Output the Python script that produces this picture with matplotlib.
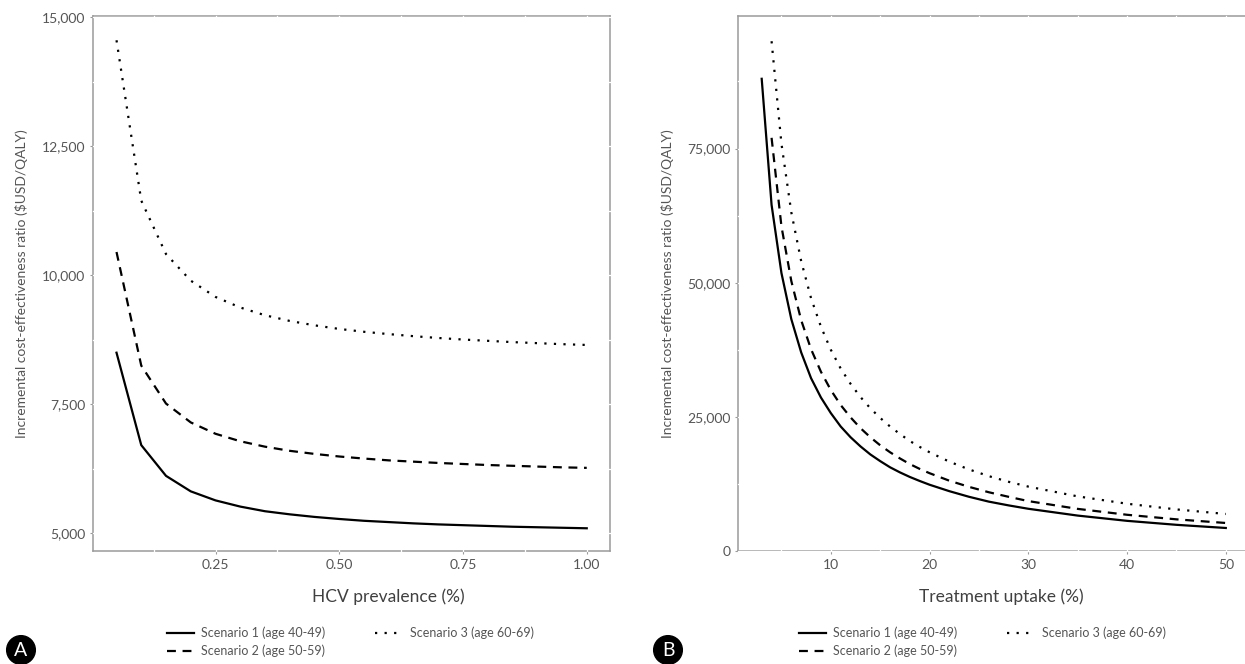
import matplotlib
matplotlib.use('Agg')
import matplotlib.pyplot as plt
from matplotlib.lines import Line2D

plt.rcParams['font.family'] = ['Lato', 'DejaVu Sans']

# panel A: ICER by HCV prevalence
prevalence = [0.05, 0.10, 0.15, 0.20, 0.25, 0.30, 0.35, 0.40, 0.45, 0.50,
              0.55, 0.60, 0.65, 0.70, 0.75, 0.80, 0.85, 0.90, 0.95, 1.00]
prev_s1 = [8500, 6710, 6115, 5815, 5640, 5520, 5430, 5370, 5320, 5280,
           5245, 5220, 5195, 5175, 5160, 5145, 5130, 5120, 5110, 5100]
prev_s2 = [10450, 8250, 7515, 7150, 6930, 6785, 6680, 6600, 6540, 6490,
           6450, 6415, 6390, 6365, 6345, 6325, 6310, 6295, 6280, 6270]
prev_s3 = [14550, 11445, 10410, 9895, 9580, 9375, 9225, 9115, 9030, 8960,
           8905, 8860, 8820, 8785, 8755, 8730, 8705, 8685, 8665, 8650]

# panel B: ICER by treatment uptake
uptake_s1 = [3, 4, 5, 6, 7, 8, 9, 10, 11, 12, 13, 14, 15, 16, 17, 18, 19, 20,
             22, 24, 26, 28, 30, 35, 40, 45, 50]
upt_s1 = [88000, 64500, 51800, 43200, 37000, 32200, 28600, 25700, 23200, 21200,
          19500, 18000, 16750, 15600, 14650, 13800, 13050, 12350,
          11150, 10100, 9200, 8500, 7870, 6600, 5620, 4880, 4290]
uptake_s23 = [4, 5, 6, 7, 8, 9, 10, 11, 12, 13, 14, 15, 16, 17, 18, 19, 20,
              22, 24, 26, 28, 30, 35, 40, 45, 50]
upt_s2 = [77000, 60500, 50300, 43000, 37600, 33400, 30000, 27200, 24900, 22900,
          21200, 19700, 18400, 17250, 16200, 15300, 14500,
          13100, 11950, 10950, 10100, 9300, 7850, 6750, 5900, 5220]
upt_s3 = [95000, 75900, 63100, 54000, 47100, 41800, 37500, 34000, 31150, 28700,
          26600, 24800, 23200, 21800, 20500, 19400, 18400,
          16650, 15200, 13950, 12900, 12000, 10180, 8810, 7750, 6900]

labels = ['Scenario 1 (age 40-49)', 'Scenario 2 (age 50-59)', 'Scenario 3 (age 60-69)']
styles = ['-', (0, (4, 3)), (0, (1, 3.3))]

a_xticks = [0.25, 0.50, 0.75, 1.00]
a_xminor = [0.125, 0.375, 0.625, 0.875]
a_yticks = [5000, 7500, 10000, 12500, 15000]
a_yminor = [6250, 8750, 11250, 13750]
b_xticks = [10, 20, 30, 40, 50]
b_xminor = [5, 15, 25, 35, 45]
b_yticks = [0, 25000, 50000, 75000]
b_yminor = [12500, 37500, 62500, 87500]

W, H = 1245, 664
fig = plt.figure(figsize=(W / 100, H / 100), dpi=100)
ax_a = fig.add_axes([93 / W, 113 / H, 517 / W, 535 / H])
ax_b = fig.add_axes([738 / W, 113 / H, 511 / W, 535 / H])

grey_txt = '#555555'
grey_line = '#9a9a9a'


def style_panel(ax, xt, xm, yt, ym, xlab, xlab_x, fmt_x):
    for s in ax.spines.values():
        s.set_color(grey_line)
        s.set_linewidth(1.1)
    ax.set_xticks(xt)
    ax.set_xticklabels([fmt_x(v) for v in xt])
    ax.set_yticks(yt)
    ax.set_yticklabels([f'{v:,}' for v in yt])
    ax.tick_params(length=2.5, width=0.8, color=grey_line, labelcolor=grey_txt,
                   labelsize=10, pad=3)
    # white panel grid cutting the border like the ggplot original
    for v in list(xt) + list(xm):
        ax.axvline(v, color='white', lw=0.9, zorder=2.6, clip_on=False)
    for v in list(yt) + list(ym):
        ax.axhline(v, color='white', lw=0.9, zorder=2.6, clip_on=False)
    ax.set_xlabel(xlab, fontsize=12.5, color='#404040', va='center')
    ax.xaxis.set_label_coords(xlab_x, -0.086)
    ax.set_ylabel('Incremental cost-effectiveness ratio ($USD/QALY)',
                  fontsize=10, color=grey_txt, va='center')


for y, ls in zip([prev_s1, prev_s2, prev_s3], styles):
    ax_a.plot(prevalence, y, color='black', lw=1.6, linestyle=ls, zorder=3)
ax_a.set_xlim(0.0025, 1.047)
ax_a.set_ylim(4660, 15020)
style_panel(ax_a, a_xticks, a_xminor, a_yticks, a_yminor, 'HCV prevalence (%)',
            0.571, lambda v: f'{v:.2f}')
ax_a.yaxis.set_label_coords(-0.139, 0.5)

for x, y, ls in zip([uptake_s1, uptake_s23, uptake_s23], [upt_s1, upt_s2, upt_s3], styles):
    ax_b.plot(x, y, color='black', lw=1.6, linestyle=ls, zorder=3)
ax_b.set_xlim(0.6, 52.35)
ax_b.set_ylim(0, 99700)
style_panel(ax_b, b_xticks, b_xminor, b_yticks, b_yminor, 'Treatment uptake (%)',
            0.515, lambda v: f'{v}')
ax_b.yaxis.set_label_coords(-0.137, 0.5)

handles = [Line2D([], [], color='black', lw=1.6, linestyle=ls) for ls in styles]
for cx in (350 / W, 982 / W):
    fig.legend(handles, labels, ncol=2, loc='center', bbox_to_anchor=(cx, 22 / H),
               frameon=False, fontsize=9, labelcolor=grey_txt, handlelength=2.2,
               handletextpad=0.55, columnspacing=4.0, labelspacing=0.45,
               borderpad=0)

for letter, cx in (('A', 21), ('B', 668)):
    fig.text(cx / W, 14 / H, letter, color='white', fontsize=14, ha='center',
             va='center', bbox=dict(boxstyle='circle,pad=0.3', fc='black', ec='black'))

fig.savefig('out.png', dpi=100)
